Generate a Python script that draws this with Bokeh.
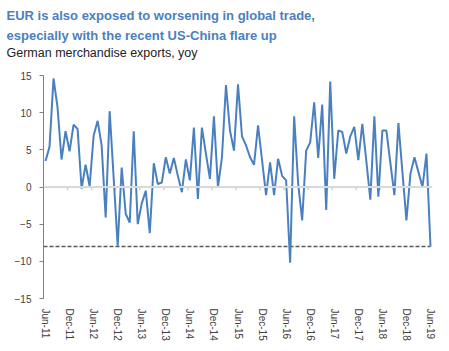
from bokeh.plotting import figure
from bokeh.models import Span, FixedTicker, Range1d, Title
from bokeh.embed import file_html
from bokeh.resources import INLINE

# German merchandise exports, yoy (%), monthly Jun-11 .. Jun-19
values = [3.5, 5.4, 14.6, 10.7, 3.7, 7.5, 4.8, 8.4, 7.8, -0.2,
          3.0, 0.1, 6.9, 8.9, 5.6, -4.1, 10.2, 1.2, -7.9, 2.6,
          -3.6, -4.8, 7.5, -5.0, -2.2, -0.5, -6.2, 3.2, 0.4, 0.6,
          4.0, 1.8, 3.9, 1.5, -0.7, 3.7, 0.9, 8.0, -1.6, 8.0,
          4.5, 1.1, 9.5, 0.0, 4.0, 13.7, 7.6, 4.9, 13.8, 6.8,
          5.6, 4.0, 3.0, 8.3, 3.6, -1.1, 3.3, -1.1, 3.8, 1.5,
          0.9, -10.2, 9.5, 0.5, -4.5, 4.9, 6.0, 11.4, 3.9, 11.1,
          -3.1, 14.2, 1.1, 7.6, 7.4, 4.5, 6.8, 8.1, 3.6, 8.5,
          3.5, -1.7, 9.5, -1.3, 7.6, 7.6, 3.2, -1.1, 8.6, 2.0,
          -4.5, 1.8, 4.0, 2.0, 0.0, 4.5, -8.0]
tick_labels = ["Jun-11", "Dec-11", "Jun-12", "Dec-12", "Jun-13", "Dec-13",
               "Jun-14", "Dec-14", "Jun-15", "Dec-15", "Jun-16", "Dec-16",
               "Jun-17", "Dec-17", "Jun-18", "Dec-18", "Jun-19"]
y_ticks = [-15, -10, -5, 0, 5, 10, 15]
threshold = -8.0

title_line1 = "EUR is also exposed to worsening in global trade,"
title_line2 = "especially with the recent US-China flare up"
subtitle = "German merchandise exports, yoy"

FONT = "Liberation Sans, Arial, sans-serif"
BLUE = "#4a80c0"

W, H = 449, 351
LEFT, RIGHT, TOP, BOTTOM = 43, 17, 75, 53

n = len(values)
x = list(range(n))
step = 6
tick_pos = [i * step for i in range(len(tick_labels))]
x0, x1 = -0.5, n - 0.5

p = figure(width=W, height=H, output_backend="svg", toolbar_location=None,
           x_range=Range1d(x0, x1), y_range=Range1d(-15, 15),
           min_border_left=LEFT, min_border_right=RIGHT, min_border_top=TOP,
           min_border_bottom=BOTTOM)
p.outline_line_color = None
p.grid.visible = False
p.background_fill_color = "white"
p.border_fill_color = "white"

# headings: p.title is outermost; added titles stack outward from the plot
p.title.text = title_line1
p.title.text_font = FONT
p.title.text_font_size = "13px"
p.title.text_font_style = "bold"
p.title.text_color = BLUE
p.title.align = "left"
p.title.offset = 6 - LEFT
p.title.standoff = 1
# blank second line keeps a gap between the subtitle and the plot
p.add_layout(Title(text=subtitle + "\n ", text_font=FONT, text_font_size="12.5px",
                   text_font_style="normal", text_color="#222222", align="left",
                   vertical_align="top", offset=6 - LEFT, standoff=0), "above")
p.add_layout(Title(text=title_line2, text_font=FONT, text_font_size="13px",
                   text_font_style="bold", text_color=BLUE, align="left",
                   offset=6 - LEFT, standoff=5), "above")

# zero line and its small tick marks (category boundaries every 6 months)
p.add_layout(Span(location=0, dimension="width", line_color="#d9d9d9", line_width=2))
bx = [t + step - 0.5 for t in tick_pos[:-1]]
p.segment(x0=bx, y0=[0] * len(bx), x1=bx, y1=[-0.45] * len(bx),
          line_color="#d0d0d0", line_width=1.5)

# threshold dashed line
p.line(x=[x0, n - 1], y=[threshold, threshold], line_color="#595959",
       line_width=1.5, line_dash="4 2")

# series
p.line(x=x, y=values, line_color=BLUE, line_width=2)

# axes
xa = p.xaxis[0]
xa.ticker = FixedTicker(ticks=tick_pos)
xa.major_label_overrides = {t: l for t, l in zip(tick_pos, tick_labels)}
xa.major_label_orientation = "vertical"
xa.axis_line_color = None
xa.major_tick_line_color = None
xa.minor_tick_line_color = None
xa.major_label_standoff = 4
xa.major_label_text_font = FONT
xa.major_label_text_font_size = "10px"
xa.major_label_text_color = "#404040"

ya = p.yaxis[0]
ya.ticker = FixedTicker(ticks=y_ticks)
ya.axis_line_color = "#808080"
ya.axis_line_width = 1
ya.major_tick_line_color = "#808080"
ya.major_tick_out = 4
ya.major_tick_in = 0
ya.minor_tick_line_color = None
ya.major_label_standoff = 8
ya.major_label_text_font = FONT
ya.major_label_text_font_size = "10px"
ya.major_label_text_color = "#404040"

open("out.html", "w").write(file_html(p, INLINE))
